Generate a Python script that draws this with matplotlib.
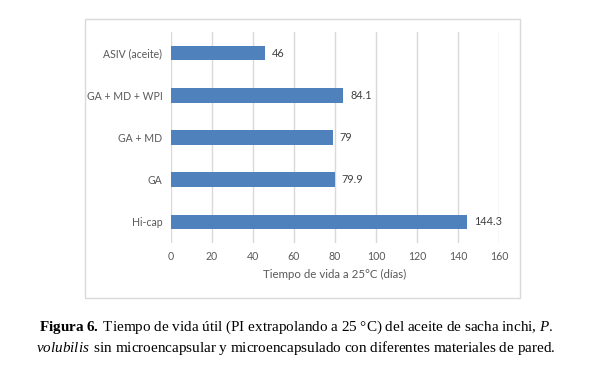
import matplotlib
matplotlib.use("Agg")
import matplotlib.pyplot as plt
from matplotlib.patches import Rectangle

# datos
categorias = ["ASIV (aceite)", "GA + MD + WPI", "GA + MD", "GA", "Hi-cap"]
valores = [46, 84.1, 79, 79.9, 144.3]
etiquetas = ["46", "84.1", "79", "79.9", "144.3"]
xticks = [0, 20, 40, 60, 80, 100, 120, 140, 160]

plt.rcParams['mathtext.fontset'] = 'custom'
plt.rcParams['mathtext.rm'] = 'Liberation Serif'
plt.rcParams['mathtext.it'] = 'Liberation Serif:italic'
plt.rcParams['mathtext.bf'] = 'Liberation Serif:bold'

gris = "#595959"
fig = plt.figure(figsize=(6.1, 3.74), dpi=100)

# marco del grafico
fig.patches.append(Rectangle((0.1393, 0.2032), 0.7131, 0.746, transform=fig.transFigure,
                             fill=False, edgecolor="#d9d9d9", linewidth=1.0))

ax = fig.add_axes([0.2798, 0.3503, 0.5387, 0.5642])
y = list(range(len(categorias)))
ax.barh(y, valores, height=0.35, color="#4f81bd", zorder=3)
for yi, v, t in zip(y, valores, etiquetas):
    ax.text(v + 3.3, yi, t, va="center", ha="left", fontsize=7.8, color="#404040",
            family="Lato")

ax.set_ylim(4.5, -0.5)
ax.set_xlim(0, 160)
ax.set_xticks(xticks)
ax.set_yticks(y)
ax.set_yticklabels(categorias)
ax.grid(axis="x", color="#d9d9d9", linewidth=1.0, zorder=0)
for s in ax.spines.values():
    s.set_visible(False)
ax.tick_params(length=0, labelsize=7.6, colors=gris, pad=6)
for lab in ax.get_xticklabels() + ax.get_yticklabels():
    lab.set_family("Lato")
ax.set_xlabel("Tiempo de vida a 25°C (días)", fontsize=8.3, color=gris, family="Lato",
              labelpad=5)

fig.text(0.485, 0.126,
         r"$\mathbf{Figura\ 6.}\;$Tiempo de vida útil (PI extrapolando a 25 °C) del aceite de sacha inchi, $\it{P.}$",
         ha="center", va="center", fontsize=10.9, family="Liberation Serif")
fig.text(0.484, 0.07,
         r"$\it{volubilis}\,$ sin microencapsular y microencapsulado con diferentes materiales de pared.",
         ha="center", va="center", fontsize=10.9, family="Liberation Serif")

fig.savefig("out.png", dpi=100)
